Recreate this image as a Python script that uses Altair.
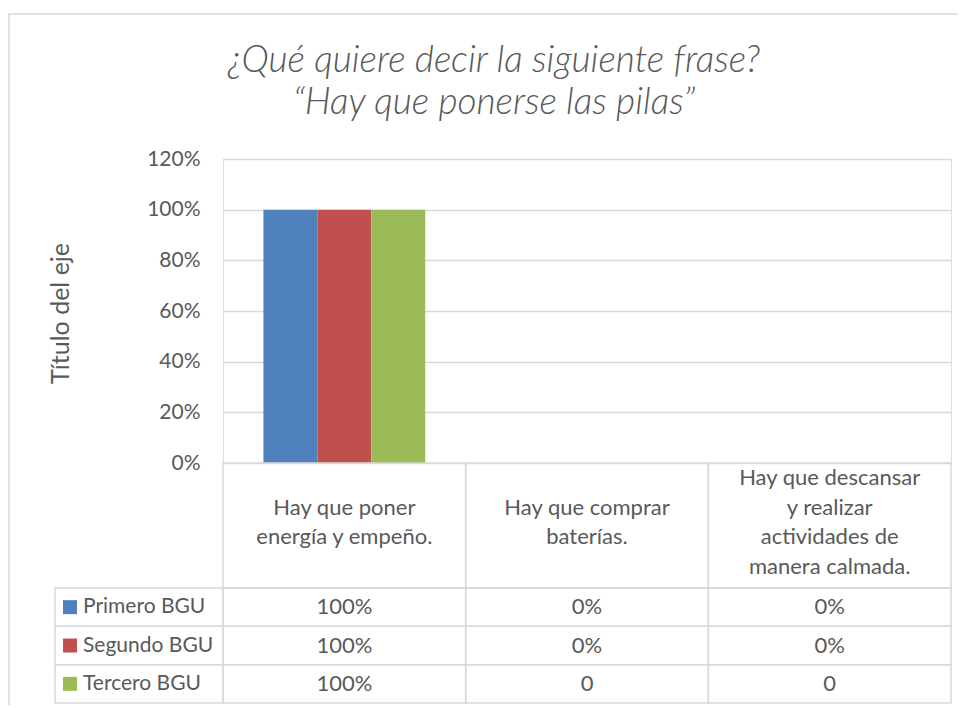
import altair as alt
import pandas as pd

# ---- data ----
categories = [
    "Hay que poner energía y empeño.",
    "Hay que comprar baterías.",
    "Hay que descansar y realizar actividades de manera calmada.",
]
category_lines = [
    ["Hay que poner", "energía y empeño."],
    ["Hay que comprar", "baterías."],
    ["Hay que descansar", "y realizar", "actividades de", "manera calmada."],
]
series = ["Primero BGU", "Segundo BGU", "Tercero BGU"]
primero = [1.0, 0.0, 0.0]
segundo = [1.0, 0.0, 0.0]
tercero = [1.0, 0.0, 0.0]
primero_labels = ["100%", "0%", "0%"]
segundo_labels = ["100%", "0%", "0%"]
tercero_labels = ["100%", "0", "0"]
colors = ["#4F81BD", "#C0504D", "#9BBB59"]
y_ticks = [0, 0.2, 0.4, 0.6, 0.8, 1.0, 1.2]
title_lines = ["¿Qué quiere decir la siguiente frase?", "“Hay que ponerse las pilas”"]
y_title = "Título del eje"

# ---- tables built from the lists ----
rows = []
for s, vals, labs in zip(series, [primero, segundo, tercero],
                         [primero_labels, segundo_labels, tercero_labels]):
    for c, v, l in zip(categories, vals, labs):
        rows.append({"cat": c, "series": s, "value": v, "label": l})
df = pd.DataFrame(rows)

hdr_rows = []
for c, lines in zip(categories, category_lines):
    n = len(lines)
    for i, t in enumerate(lines):
        hdr_rows.append({"cat": c, "line": t, "slot": i - (n - 1) / 2})
hdr_lines_df = pd.DataFrame(hdr_rows)
hdr_df = pd.DataFrame({"cat": categories})
ser_df = pd.DataFrame({"series": series})
title_df = pd.DataFrame({"t": ["\n".join(title_lines)]})
one = pd.DataFrame({"k": [0]})

FONT = "Lato"
TXT = "#595959"
GRID = "#D9D9D9"
W, H = 728, 304
HDR_H = 125
LH = 29.5
ROW_TOP, ROW_BOT = H + HDR_H, H + HDR_H + 115

x_enc = alt.X("cat:N", sort=categories,
              scale=alt.Scale(domain=categories, paddingInner=0, paddingOuter=0),
              axis=None)
color_enc = alt.Color("series:N", scale=alt.Scale(domain=series, range=colors), legend=None)
row_y = alt.Y("series:N", sort=series,
              scale=alt.Scale(domain=series, range=[ROW_TOP, ROW_BOT],
                              paddingInner=0, paddingOuter=0),
              axis=None)

bars = alt.Chart(df).mark_bar().encode(
    x=x_enc,
    xOffset=alt.XOffset("series:N", sort=series,
                        scale=alt.Scale(domain=series, paddingInner=0, paddingOuter=0.75)),
    y=alt.Y("value:Q", scale=alt.Scale(domain=[0, 1.2], nice=False),
            axis=alt.Axis(values=y_ticks, format="%", grid=True, gridColor=GRID,
                          gridWidth=1.5, domain=False, ticks=False, tickSize=0,
                          labelPadding=23, labelFont=FONT, labelFontSize=21,
                          labelColor=TXT, title=y_title, titleFont=FONT,
                          titleFontSize=25, titleFontWeight="normal",
                          titleColor=TXT, titleX=-163, titleY=H / 2 + 2,
                          titleAngle=-90, titleAlign="center",
                          titleBaseline="middle")),
    color=color_enc,
)

outer = alt.Chart(one).mark_rect(fill=None, stroke=GRID, strokeWidth=1.5).encode(
    x=alt.value(-214), x2=alt.value(800), y=alt.value(-145), y2=alt.value(700)
)

title = alt.Chart(title_df).mark_text(
    lineBreak="\n", font=FONT, fontSize=37, fontStyle="italic", fontWeight=300,
    color=TXT, align="center", baseline="alphabetic", lineHeight=42
).encode(x=alt.value(271), y=alt.value(-87), text="t:N")

hdr_cells = alt.Chart(hdr_df).mark_rect(fill=None, stroke=GRID, strokeWidth=1.5).encode(
    x=x_enc, y=alt.value(H), y2=alt.value(H + HDR_H)
)
hdr_text = alt.Chart(hdr_lines_df).mark_text(
    font=FONT, fontSize=22, color=TXT, baseline="middle", align="center"
).encode(
    x=x_enc,
    y=alt.Y("slot:Q", scale=alt.Scale(domain=[-HDR_H / 2 / LH, HDR_H / 2 / LH],
                                      range=[H - 3, H + HDR_H - 3], nice=False, zero=False),
            axis=None),
    text="line:N",
)

cells = alt.Chart(df).mark_rect(fill=None, stroke=GRID, strokeWidth=1.5).encode(
    x=x_enc, y=row_y
)
cell_text = alt.Chart(df).mark_text(
    font=FONT, fontSize=22, color=TXT, baseline="middle", align="center"
).encode(x=x_enc, y=row_y, text="label:N")

leg_cells = alt.Chart(ser_df).mark_rect(fill=None, stroke=GRID, strokeWidth=1.5).encode(
    x=alt.value(-168), x2=alt.value(0), y=row_y
)
leg_sq = alt.Chart(ser_df).mark_square(size=196, opacity=1).encode(
    x=alt.value(-153), y=row_y, color=color_enc
)
leg_text = alt.Chart(ser_df).mark_text(
    font=FONT, fontSize=21, color=TXT, baseline="middle", align="left"
).encode(x=alt.value(-140), y=row_y, text="series:N")

chart = alt.layer(
    outer, title, bars, hdr_cells, hdr_text, cells, cell_text, leg_cells, leg_sq, leg_text
).resolve_scale(y="independent").properties(
    width=W, height=H,
    autosize=alt.AutoSizeParams(type="none"),
    padding={"left": 215, "top": 151, "right": 7, "bottom": 242},
).configure_view(stroke=None).configure(background="white")

chart.save("out.html", embed_options={"renderer": "svg", "actions": False})
